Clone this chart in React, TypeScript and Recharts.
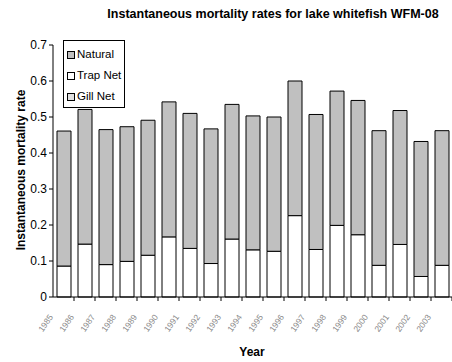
import React from "react";
import { BarChart, Bar, XAxis, YAxis, Legend } from "recharts";

const years = [
  "1985", "1986", "1987", "1988", "1989", "1990", "1991", "1992", "1993", "1994",
  "1995", "1996", "1997", "1998", "1999", "2000", "2001", "2002", "2003",
];
const trapNet = [
  0.086, 0.147, 0.09, 0.099, 0.116, 0.167, 0.135, 0.093, 0.161, 0.131,
  0.127, 0.226, 0.132, 0.199, 0.173, 0.088, 0.146, 0.057, 0.088,
];
const gillNet = [0, 0, 0, 0, 0, 0, 0, 0, 0, 0, 0, 0, 0, 0, 0, 0, 0, 0, 0];
const natural = [
  0.375, 0.374, 0.375, 0.374, 0.375, 0.375, 0.375, 0.374, 0.374, 0.372,
  0.373, 0.374, 0.375, 0.373, 0.373, 0.374, 0.372, 0.375, 0.374,
];
const yTicks = [0, 0.1, 0.2, 0.3, 0.4, 0.5, 0.6, 0.7];
const legendOrder = ["Natural", "Trap Net", "Gill Net"];

const data = years.map((year, i) => ({
  year,
  trap: trapNet[i],
  gill: gillNet[i],
  natural: natural[i],
}));

const FONT = "'Liberation Sans', Arial, sans-serif";
const BAND = 399 / years.length; // plot width / categories

// year labels: small, grey, slanted
const YearTick = (props: any) => {
  const { x, y, payload } = props;
  return (
    <g>
      <line x1={x + BAND / 2} y1={y - 8} x2={x + BAND / 2} y2={y - 4} stroke="#000" />
      <text
        x={x - 10}
        y={y + 12}
        transform={`rotate(-55, ${x - 10}, ${y + 12})`}
        textAnchor="end"
        fontSize={8.5}
        fill="#8a8a8a"
        fontFamily={FONT}
      >
        {payload.value}
      </text>
    </g>
  );
};

const LegendBox = (props: any) => {
  const items = [...(props.payload || [])].sort(
    (a: any, b: any) => legendOrder.indexOf(a.value) - legendOrder.indexOf(b.value)
  );
  return (
    <div
      style={{
        border: "1px solid #000",
        background: "#fff",
        padding: "3px 3px 0 3px",
        fontFamily: FONT,
        fontSize: 11.5,
        lineHeight: "21px",
        textAlign: "left",
        whiteSpace: "nowrap",
        display: "inline-block",
      }}
    >
      {items.map((it: any) => (
        <div key={it.value} style={{ display: "flex", alignItems: "center" }}>
          <span
            style={{
              width: 6,
              height: 6,
              border: "1px solid #000",
              background: it.payload.fill,
              marginRight: 2,
              display: "inline-block",
            }}
          />
          {it.value}
        </div>
      ))}
    </div>
  );
};

export default function App() {
  return (
    <div style={{ position: "relative", width: 452, height: 362, background: "#fff", fontFamily: FONT }}>
      <style>{`body{margin:0}`}</style>
      <div
        style={{
          position: "absolute",
          top: 7,
          left: 106,
          width: 334,
          textAlign: "center",
          fontSize: 12.5,
          fontWeight: "bold",
          whiteSpace: "nowrap",
        }}
      >
        Instantaneous mortality rates for lake whitefish WFM-08
      </div>
      <div
        style={{
          position: "absolute",
          left: 21,
          top: 170,
          transform: "translate(-50%, -50%) rotate(-90deg)",
          fontSize: 12,
          fontWeight: "bold",
          whiteSpace: "nowrap",
        }}
      >
        Instantaneous mortality rate
      </div>
      <div
        style={{
          position: "absolute",
          left: 252,
          top: 345,
          transform: "translateX(-50%)",
          fontSize: 12,
          fontWeight: "bold",
        }}
      >
        Year
      </div>
      <BarChart
        width={452}
        height={362}
        data={data}
        margin={{ top: 45, right: 0, left: 0, bottom: 14 }}
        barSize={14}
      >
        <XAxis
          dataKey="year"
          height={51}
          axisLine={{ stroke: "#000" }}
          tickLine={false}
          tick={<YearTick />}
          interval={0}
        />
        <YAxis
          width={53}
          domain={[0, 0.7]}
          ticks={yTicks}
          tickFormatter={(v: number) => String(v)}
          axisLine={{ stroke: "#000" }}
          tickLine={{ stroke: "#000" }}
          tickSize={4}
          tick={{ fill: "#000", fontSize: 12, fontFamily: FONT }}
        />
        <Legend
          layout="vertical"
          verticalAlign="middle"
          align="center"
          wrapperStyle={{ left: 63, top: 40, width: "auto" }}
          content={<LegendBox />}
        />
        <Bar dataKey="trap" name="Trap Net" stackId="a" fill="#ffffff" stroke="#000" strokeWidth={1} isAnimationActive={false} />
        <Bar dataKey="gill" name="Gill Net" stackId="a" fill="#e0e0e0" stroke="#000" strokeWidth={1} isAnimationActive={false} />
        <Bar dataKey="natural" name="Natural" stackId="a" fill="#c0c0c0" stroke="#000" strokeWidth={1} isAnimationActive={false} />
      </BarChart>
    </div>
  );
}
